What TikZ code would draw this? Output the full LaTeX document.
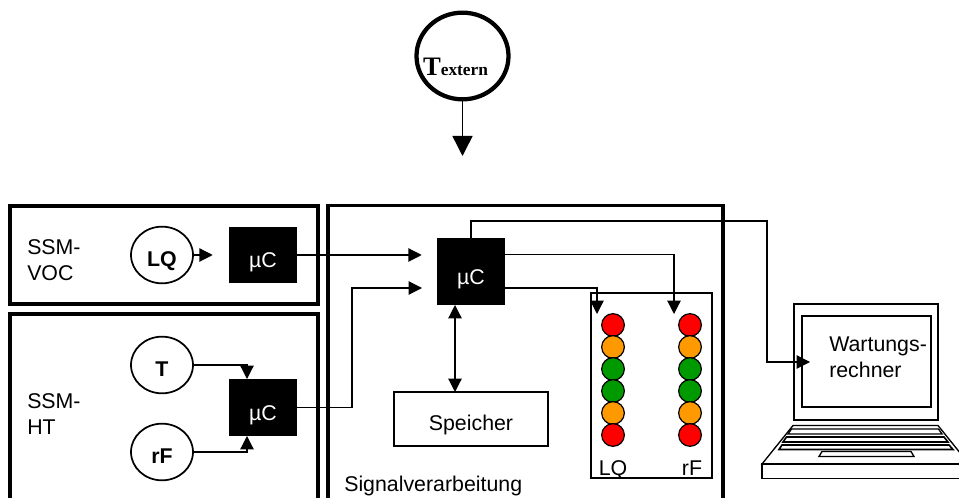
\documentclass[tikz,border=0pt]{standalone}
\usepackage{fontspec}
\setmainfont{Liberation Sans}
\newfontfamily\serifbold[BoldFont={Liberation Serif Bold}]{Liberation Serif}
\usetikzlibrary{shapes.geometric,arrows.meta,positioning}
\definecolor{ledred}{RGB}{255,0,0}
\definecolor{ledorange}{RGB}{255,153,0}
\definecolor{ledgreen}{RGB}{0,153,0}

\begin{document}
\begin{tikzpicture}[
    x=0.75pt, y=-0.75pt,
    label16/.style={font=\fontsize{16}{19.5}\selectfont, align=left, inner sep=0pt},
    ssmbox/.style={rectangle, draw=black, line width=2.6pt, inner sep=0pt, minimum width=231pt},
    cpu/.style={rectangle, fill=black, text=white, inner sep=0pt, minimum width=51pt, text height=19pt, text depth=0pt, font=\fontsize{16}{19.5}\selectfont},
    sensor/.style={ellipse, draw=black, line width=1.3pt, fill=white, inner sep=0pt, minimum width=46.5pt, minimum height=42.5pt, text height=17pt, text depth=0pt, font=\fontsize{16}{19.5}\selectfont\bfseries},
    plainbox/.style={rectangle, draw=black, line width=1.6pt, inner sep=0pt},
    led/.style={circle, draw=black, line width=0.9pt, inner sep=0pt, minimum size=17pt},
    arrow/.style={-{Triangle[length=10pt, width=10pt]}, line width=0.9pt},
    bigarrow/.style={-{Triangle[length=15pt, width=15pt]}, line width=1.1pt},
    both/.style={{Triangle[length=10pt, width=10pt]}-{Triangle[length=10pt, width=10pt]}, line width=0.9pt}
]
    \useasboundingbox (0,0) rectangle (959,498);
    \clip (0,0) rectangle (959,498);

    \node [ellipse, draw=black, line width=3.2pt, inner sep=0pt, minimum width=69pt, minimum height=65pt] (textern) at (462.5,56) {};
    \node [inner sep=0pt, anchor=base] (texternlabel) at (455.5,76) {\serifbold\bfseries\fontsize{20}{20}\selectfont T\fontsize{13}{13}\selectfont extern};
    \coordinate (texternend) at (462.5,156);

    \node [ssmbox, minimum height=73.5pt] (voc) at (164,255) {};
    \node [ssmbox, minimum height=165pt] (ht) at (164,424) {};
    \node [ssmbox, minimum width=296pt, minimum height=260pt] (signal) at (525.5,379) {};

    \node [label16, anchor=west] (voclabel) at (27,260) {SSM-\\VOC};
    \node [label16, anchor=west] (htlabel) at (27,414) {SSM-\\HT};
    \node [label16, anchor=west] (signallabel) at (344,486) {Signalverarbeitung};

    \node [sensor] (lq) at (162,255) {LQ};
    \node [sensor] (t) at (162,365) {T};
    \node [sensor] (rf) at (162,452) {rF};

    \node [cpu, minimum height=42pt] (uC1) at (263,255) {µC};
    \node [cpu, minimum height=42.5pt] (uC2) at (263,407.5) {µC};
    \node [cpu, minimum height=50pt] (uC3) at (471,271.5) {µC};

    \node [plainbox, minimum width=115.5pt, minimum height=40.5pt, text height=17.2pt, text depth=0pt, font=\fontsize{16}{19.5}\selectfont] (speicher) at (471,419) {Speicher};
    \node [plainbox, minimum width=90.5pt, minimum height=139pt] (ledbox) at (651.5,385.5) {};
    \node [label16, anchor=base] (ledlq) at (613,475) {LQ};
    \node [label16, anchor=base] (ledrf) at (692,475) {rF};

    \foreach \colx/\colname in {613/lq,690/rf}
        \foreach \rowy/\rowcol [count=\i] in {325/red,347/orange,369/green,391/green,413/orange,435/red}
            \node [led, fill=led\rowcol] (led\colname\i) at (\colx,\rowy) {};

    \node [plainbox, line width=1.3pt, minimum width=108pt, minimum height=87pt] (lid) at (866,362) {};
    \node [plainbox, line width=1.3pt, minimum width=97pt, minimum height=68pt] (screen) at (866.5,361.5) {};
    \node [label16, anchor=west] (wartung) at (829,357) {Wartungs-\\rechner};

    \draw [line width=1pt, line join=miter] (793,425.5) -- (938,425.5) -- (969,464) -- (762,464) -- cycle;
    \draw [line width=1pt] (762,464) rectangle (975,478.5);
    \draw [line width=1pt] (791.5,429) -- (938.5,429) -- (942,434) -- (788,434) -- cycle;
    \draw [line width=1.2pt] (786.5,437) -- (944,437) -- (948,442) -- (783,442) -- cycle;
    \draw [line width=1.2pt] (782,445) -- (949,445) -- (953,449.5) -- (779,449.5) -- cycle;
    \draw [line width=1pt] (822,451.5) -- (911,451.5) -- (914,456.5) -- (819,456.5) -- cycle;

    \coordinate (uC2top) at (247,379);
    \coordinate (uC2bot) at (247,436);
    \coordinate (uC3left) at (437,288);
    \coordinate (bendht) at (352,407.5);
    \coordinate (uC3r1) at (505,254.5);
    \coordinate (uC3r2) at (505,288);
    \coordinate (rfin) at (674,314);
    \coordinate (lqin) at (597,314);
    \coordinate (bendpc) at (767,221);
    \coordinate (pcin) at (810,362);
    \coordinate (memup) at (455,305);
    \coordinate (memdown) at (455,392);

    \draw [bigarrow] (textern) -- (texternend);
    \draw [arrow, shorten >=12pt] (lq) -- (uC1);
    \draw [arrow] (t) -| (uC2top);
    \draw [arrow] (rf) -| (uC2bot);
    \draw [arrow, shorten >=11.25pt] (uC1) -- (uC1 -| uC3.west);
    \draw [arrow, shorten >=11.25pt] (uC2.east) -- (bendht) |- (uC3left);
    \draw [arrow] (uC3r1) -| (rfin);
    \draw [arrow] (uC3r2) -| (lqin);
    \draw [arrow] (uC3.north) |- (bendpc) |- (pcin);
    \draw [both] (memup) -- (memdown);
\end{tikzpicture}
\end{document}
